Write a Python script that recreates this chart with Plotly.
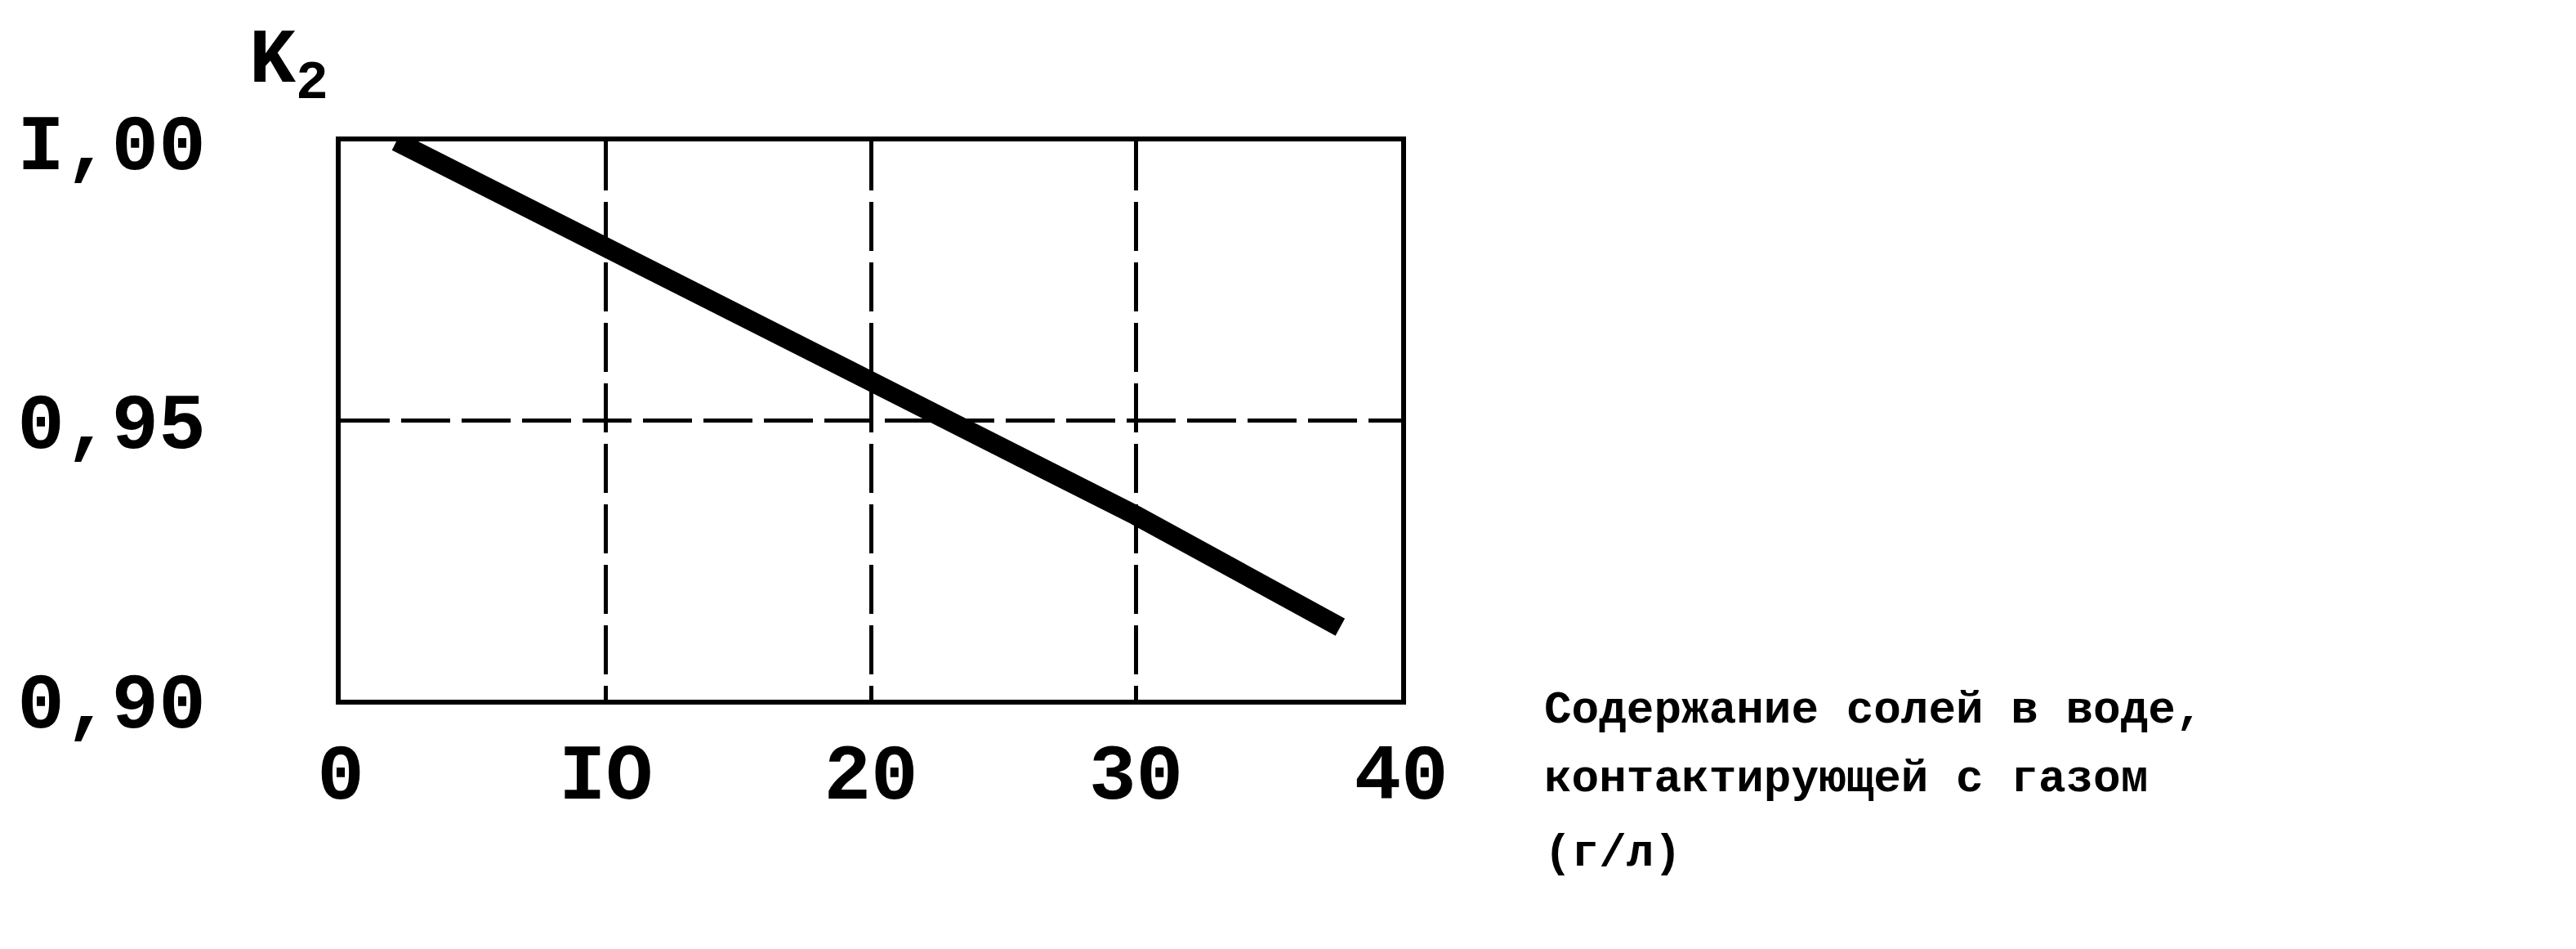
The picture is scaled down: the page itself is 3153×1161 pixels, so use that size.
import plotly.graph_objects as go

# Data
salt_gpl = [2.1, 10, 20, 30, 37.7]
k2_values = [1.000, 0.981, 0.957, 0.933, 0.913]

x_tickvals = [0, 10, 20, 30, 40]
x_ticktext = ["0", "IO", "20", "30", "40"]
y_tickvals = [0.90, 0.95, 1.00]
y_ticktext = ["0,90", "0,95", "I,00"]

y_label = "K<sub>2</sub>"
x_label_lines = ["Содержание солей в воде,", "контактирующей с газом", "(г/л)"]

FONT = "Liberation Mono"

fig = go.Figure()
fig.add_trace(go.Scatter(
    x=salt_gpl, y=k2_values, mode="lines",
    line=dict(color="black", width=24),
    showlegend=False, hoverinfo="skip",
))

fig.update_layout(
    width=3153, height=1161,
    margin=dict(l=409, r=1446, t=165, b=313),
    paper_bgcolor="white", plot_bgcolor="white",
    font=dict(family=FONT, color="black", size=56, weight="bold"),
)

grid_dash = "60px,14px"
fig.update_xaxes(
    range=[0, 40], tickvals=x_tickvals, ticktext=x_ticktext,
    showgrid=True, gridcolor="black", gridwidth=5, griddash=grid_dash,
    zeroline=False, showline=True, linecolor="black", linewidth=6, mirror=True,
    ticks="", tickfont=dict(family=FONT, size=96, color="black", weight="bold"),
    ticklabelstandoff=0,
)
fig.update_yaxes(
    range=[0.90, 1.00], tickvals=y_tickvals, ticktext=y_ticktext,
    showgrid=True, gridcolor="black", gridwidth=5, griddash=grid_dash,
    zeroline=False, showline=True, linecolor="black", linewidth=6, mirror=True,
    ticks="", tickfont=dict(family=FONT, size=96, color="black", weight="bold"),
    ticklabelstandoff=140,
)

fig.add_annotation(
    text=y_label, xref="paper", yref="paper", x=-0.088, y=1.225,
    xanchor="left", yanchor="top", showarrow=False,
    font=dict(family=FONT, size=95, color="black", weight="bold"),
)

line_y = [-0.019, -0.142, -0.275]
for txt, yy in zip(x_label_lines, line_y):
    fig.add_annotation(
        text=txt, xref="paper", yref="paper", x=1.133, y=yy,
        xanchor="left", yanchor="middle", align="left", showarrow=False,
        font=dict(family=FONT, size=56, color="black", weight="bold"),
    )

fig.write_html("out.html")
